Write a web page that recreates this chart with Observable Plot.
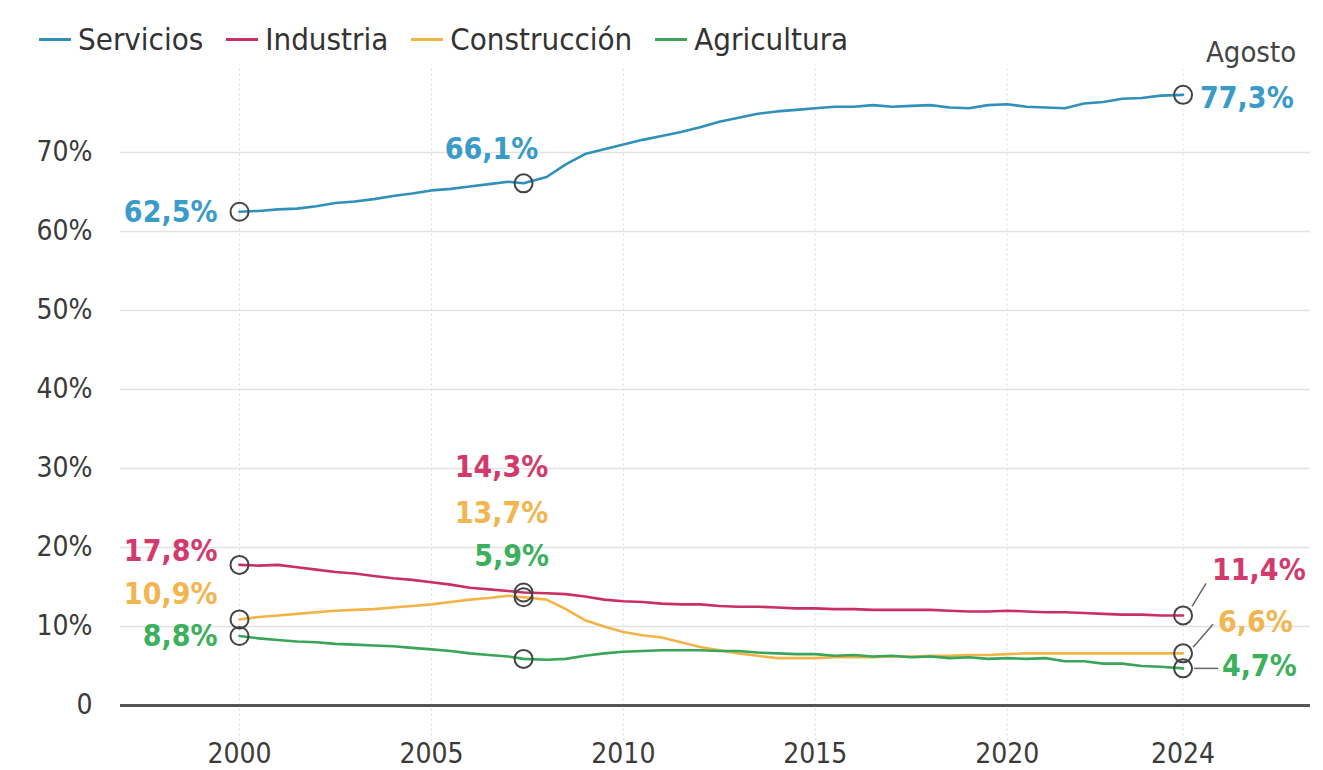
<!DOCTYPE html>
<html>
<head>
<meta charset="utf-8">
<script src="https://cdn.jsdelivr.net/npm/d3@7"></script>
<script src="https://cdn.jsdelivr.net/npm/@observablehq/plot@0.6"></script>
<style>
  body { margin: 0; background: #fff; font-family: "Liberation Sans Narrow", "DejaVu Sans Condensed", "Roboto", sans-serif; }
  #wrap { position: relative; width: 1323px; height: 770px; overflow: hidden; }
  #legend { position: absolute; top: 21px; left: 39px; display: flex; gap: 23px; font-size: 31px; color: #333; align-items: center; }
  .item { display: flex; align-items: center; }
  .sw { width: 32px; height: 3px; margin-right: 7px; }
</style>
</head>
<body>
<div id="wrap"><div id="legend"></div><div id="chart"></div></div>
<script>
const seriesNames = ["Servicios", "Industria", "Construcción", "Agricultura"];
const seriesColors = ["#2f90b9", "#c92f63", "#f2b447", "#38a558"];
const labelColors = ["#3a9ac8", "#d33a6c", "#f1b650", "#3cb05c"];

const years = [2000, 2000.5, 2001, 2001.5, 2002, 2002.5, 2003, 2003.5, 2004, 2004.5,
  2005, 2005.5, 2006, 2006.5, 2007, 2007.4, 2008, 2008.5, 2009, 2009.5,
  2010, 2010.5, 2011, 2011.5, 2012, 2012.5, 2013, 2013.5, 2014, 2014.5,
  2015, 2015.5, 2016, 2016.5, 2017, 2017.5, 2018, 2018.5, 2019, 2019.5,
  2020, 2020.5, 2021, 2021.5, 2022, 2022.5, 2023, 2023.5, 2024, 2024.58];

const servicios = [62.5, 62.6, 62.8, 62.9, 63.2, 63.6, 63.8, 64.1, 64.5, 64.8,
  65.2, 65.4, 65.7, 66.0, 66.3, 66.1, 66.9, 68.5, 69.8, 70.4,
  71.0, 71.6, 72.1, 72.6, 73.2, 73.9, 74.4, 74.9, 75.2, 75.4,
  75.6, 75.8, 75.8, 76.0, 75.8, 75.9, 76.0, 75.7, 75.6, 76.0,
  76.1, 75.8, 75.7, 75.6, 76.2, 76.4, 76.8, 76.9, 77.2, 77.3];

const industria = [17.8, 17.7, 17.8, 17.5, 17.2, 16.9, 16.7, 16.4, 16.1, 15.9,
  15.6, 15.3, 14.9, 14.7, 14.5, 14.3, 14.2, 14.1, 13.8, 13.4,
  13.2, 13.1, 12.9, 12.8, 12.8, 12.6, 12.5, 12.5, 12.4, 12.3,
  12.3, 12.2, 12.2, 12.1, 12.1, 12.1, 12.1, 12.0, 11.9, 11.9,
  12.0, 11.9, 11.8, 11.8, 11.7, 11.6, 11.5, 11.5, 11.4, 11.4];

const construccion = [10.9, 11.2, 11.4, 11.6, 11.8, 12.0, 12.1, 12.2, 12.4, 12.6,
  12.8, 13.1, 13.4, 13.6, 13.9, 13.7, 13.4, 12.2, 10.8, 10.0,
  9.3, 8.9, 8.6, 8.0, 7.4, 7.0, 6.6, 6.3, 6.0, 6.0,
  6.0, 6.1, 6.1, 6.1, 6.2, 6.2, 6.3, 6.3, 6.4, 6.4,
  6.5, 6.6, 6.6, 6.6, 6.6, 6.6, 6.6, 6.6, 6.6, 6.6];

const agricultura = [8.8, 8.5, 8.3, 8.1, 8.0, 7.8, 7.7, 7.6, 7.5, 7.3,
  7.1, 6.9, 6.6, 6.4, 6.2, 5.9, 5.8, 5.9, 6.3, 6.6,
  6.8, 6.9, 7.0, 7.0, 7.0, 6.9, 6.9, 6.7, 6.6, 6.5,
  6.5, 6.3, 6.4, 6.2, 6.3, 6.1, 6.2, 6.0, 6.1, 5.9,
  6.0, 5.9, 6.0, 5.6, 5.6, 5.3, 5.3, 5.0, 4.9, 4.7];

const xTickValues = [2000, 2005, 2010, 2015, 2020, 2024.58];
const xTickLabels = ["2000", "2005", "2010", "2015", "2020", "2024"];
const yTickValues = [0, 10, 20, 30, 40, 50, 60, 70];
const yTickLabels = ["0", "10%", "20%", "30%", "40%", "50%", "60%", "70%"];

// annotated points: series index, point index, label text
const annSeries = [0, 0, 0, 1, 2, 3, 1, 2, 3, 1, 2, 3];
const annIndex  = [0, 15, 49, 0, 0, 0, 15, 15, 15, 49, 49, 49];
const annText   = ["62,5%", "66,1%", "77,3%", "17,8%", "10,9%", "8,8%", "14,3%", "13,7%", "5,9%", "11,4%", "6,6%", "4,7%"];
// label offsets in px (style)
const annDx     = [-22, -32, 17, -22, -22, -22, -22, -22, -12, 29, 35, 39];
const annDy     = [1, -34, 4, -13, -25, 0, -125, -84, -102, -45, -31, -2];
const annAnchor = ["end", "middle", "start", "end", "end", "end", "middle", "middle", "middle", "start", "start", "start"];
// leader lines (px offsets from the last point): [x1, y1, x2, y2]
const leaders = [[9, -9, 23, -32], [10, -6, 30, -29], [11, 0, 35, 0]];
const leaderSeries = [1, 2, 3];

const seriesValues = [servicios, industria, construccion, agricultura];
const rows = [];
seriesValues.forEach((vals, s) => vals.forEach((v, i) => rows.push({serie: seriesNames[s], year: years[i], value: v})));

const W = 1323, H = 770, ML = 120, MR = 13, MT = 73, MB = 65;
const xDomain = [1996.9, 2027.9], yDomain = [0, 80];
const pxPerYear = (W - ML - MR) / (xDomain[1] - xDomain[0]);
const pxPerPct = (H - MT - MB) / (yDomain[1] - yDomain[0]);

const ann = annText.map((t, k) => ({
  x: years[annIndex[k]], y: seriesValues[annSeries[k]][annIndex[k]], text: t,
  color: labelColors[annSeries[k]], dx: annDx[k], dy: annDy[k], anchor: annAnchor[k]
}));

const leaderData = leaders.map((l, k) => {
  const s = leaderSeries[k];
  const x0 = years[49], y0 = seriesValues[s][49];
  return {x1: x0 + l[0] / pxPerYear, y1: y0 - l[1] / pxPerPct, x2: x0 + l[2] / pxPerYear, y2: y0 - l[3] / pxPerPct};
});

// legend
const leg = document.getElementById("legend");
seriesNames.forEach((n, i) => {
  const it = document.createElement("div"); it.className = "item";
  const sw = document.createElement("div"); sw.className = "sw"; sw.style.background = seriesColors[i];
  const tx = document.createElement("span"); tx.textContent = n;
  it.appendChild(sw); it.appendChild(tx); leg.appendChild(it);
});

const fontFam = '"Liberation Sans Narrow", "DejaVu Sans Condensed", "Roboto", sans-serif';

const chart = Plot.plot({
  width: W, height: H,
  marginLeft: ML, marginRight: MR, marginTop: MT, marginBottom: MB,
  style: {fontFamily: fontFam, fontSize: "27px", color: "#333", background: "transparent", overflow: "visible"},
  x: {domain: xDomain},
  y: {domain: yDomain},
  color: {domain: seriesNames, range: seriesColors},
  marks: [
    Plot.ruleY(yTickValues.filter(d => d > 0), {stroke: "#e3e3e3", strokeWidth: 1.5}),
    Plot.ruleX(xTickValues, {y1: -4.5, y2: 81, stroke: "#dcdcdc", strokeDasharray: "2,3", strokeWidth: 1}),
    Plot.axisY({ticks: yTickValues, tickFormat: d => yTickLabels[yTickValues.indexOf(d)], tickSize: 0, tickPadding: 28, fontSize: 28, fill: "#3a3a3a", label: null}),
    Plot.axisX({ticks: xTickValues, tickFormat: d => xTickLabels[xTickValues.indexOf(d)], tickSize: 0, tickPadding: 38, fontSize: 28, fill: "#3a3a3a", label: null}),
    Plot.ruleY([0], {stroke: "#555", strokeWidth: 3}),
    Plot.line(rows, {x: "year", y: "value", z: "serie", stroke: "serie", strokeWidth: 2.6}),
    Plot.dot(ann, {x: "x", y: "y", r: 9, stroke: "#444", strokeWidth: 2, fill: "none"}),
    Plot.link(leaderData, {x1: "x1", y1: "y1", x2: "x2", y2: "y2", stroke: "#666", strokeWidth: 1.5}),
    ...ann.map(a => Plot.text([a], {x: "x", y: "y", text: "text", fill: a.color, dx: a.dx, dy: a.dy, textAnchor: a.anchor, fontSize: 30, fontWeight: "bold", lineAnchor: "middle"})),
    Plot.text([ann[2]], {x: "x", y: "y", text: () => "Agosto", dx: 68, dy: -42, textAnchor: "middle", fill: "#444", fontSize: 29, lineAnchor: "middle"})
  ]
});
document.getElementById("chart").appendChild(chart);
</script>
</body>
</html>
